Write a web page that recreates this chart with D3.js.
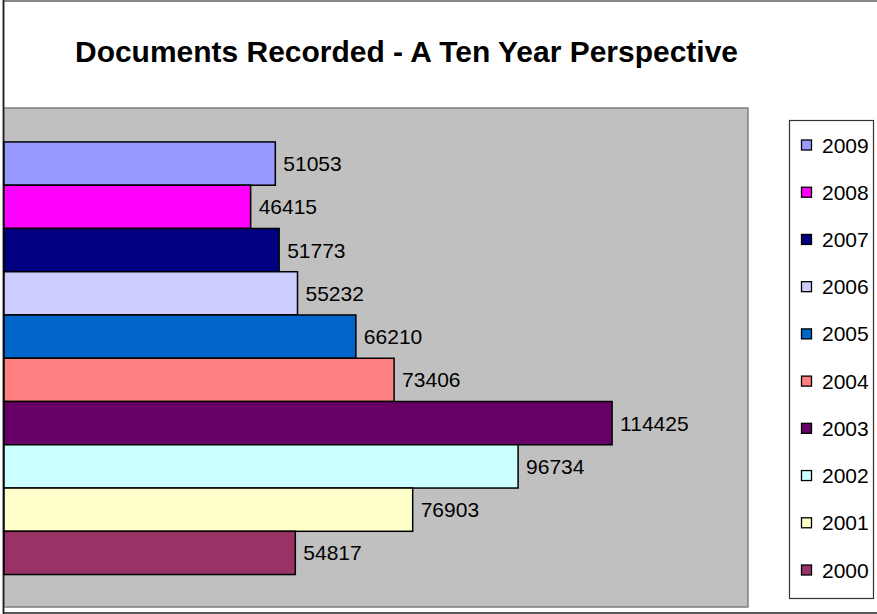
<!DOCTYPE html>
<html>
<head>
<meta charset="utf-8">
<script src="https://cdn.jsdelivr.net/npm/d3@7"></script>
<style>
  html, body { margin: 0; padding: 0; background: #fff; }
  svg { display: block; font-family: Arial, "Liberation Sans", sans-serif; }
</style>
</head>
<body>
<svg id="chart" width="877" height="614"></svg>
<script>
const titleText = "Documents Recorded - A Ten Year Perspective";
const years = ["2009", "2008", "2007", "2006", "2005", "2004", "2003", "2002", "2001", "2000"];
const values = [51053, 46415, 51773, 55232, 66210, 73406, 114425, 96734, 76903, 54817];
const colors = ["#9999FF", "#FF00FF", "#000080", "#CCCCFF", "#0066CC", "#FF8080", "#660066", "#CCFFFF", "#FFFFCC", "#993366"];
const xMax = 140000;

const svg = d3.select("#chart");

// outer chart border
svg.append("rect").attr("x", 3.5).attr("y", 1).attr("width", 880).attr("height", 612)
  .attr("fill", "#fff").attr("stroke", "#222").attr("stroke-width", 1.5);
svg.append("line").attr("x1", 3).attr("x2", 877).attr("y1", 1).attr("y2", 1)
  .attr("stroke", "#999").attr("stroke-width", 1.5);

// plot area
const px0 = 4, px1 = 748, py0 = 108, py1 = 607;
svg.append("rect").attr("x", px0).attr("y", py0).attr("width", px1 - px0).attr("height", py1 - py0)
  .attr("fill", "#C0C0C0").attr("stroke", "#808080").attr("stroke-width", 1.5);
svg.append("line").attr("x1", 3.5).attr("x2", 3.5).attr("y1", 0).attr("y2", 614)
  .attr("stroke", "#222").attr("stroke-width", 1.5);

const x = d3.scaleLinear().domain([0, xMax]).range([px0, px1]);
const y = d3.scaleBand().domain(years).range([109.5, py1]).paddingInner(0).paddingOuter(0.75);

const data = years.map((yr, i) => ({ year: yr, value: values[i], color: colors[i] }));

svg.append("g").selectAll("rect").data(data).join("rect")
  .attr("x", x(0))
  .attr("y", d => y(d.year))
  .attr("width", d => x(d.value) - x(0))
  .attr("height", y.bandwidth())
  .attr("fill", d => d.color)
  .attr("stroke", "#000").attr("stroke-width", 1.5);

svg.append("g").selectAll("text").data(data).join("text")
  .attr("x", d => x(d.value) + 8)
  .attr("y", d => y(d.year) + y.bandwidth() / 2)
  .attr("dy", "0.36em")
  .attr("font-size", "21px")
  .attr("fill", "#000")
  .text(d => d.value);

// title
svg.append("text").attr("x", 75).attr("y", 62)
  .attr("font-size", "29px").attr("font-weight", "bold")
  .attr("textLength", 663).attr("lengthAdjust", "spacingAndGlyphs")
  .text(titleText);

// legend
svg.append("rect").attr("x", 789.5).attr("y", 120.5).attr("width", 84).attr("height", 478)
  .attr("fill", "#fff").attr("stroke", "#333").attr("stroke-width", 1.2);
const ly = d3.scalePoint().domain(years).range([145, 570]);
const lg = svg.append("g").selectAll("g").data(data).join("g")
  .attr("transform", d => `translate(0,${ly(d.year)})`);
lg.append("rect").attr("x", 801.5).attr("y", -5).attr("width", 10).attr("height", 10)
  .attr("fill", d => d.color).attr("stroke", "#000").attr("stroke-width", 1.3);
lg.append("text").attr("x", 822).attr("y", 0).attr("dy", "0.36em")
  .attr("font-size", "21px").attr("fill", "#000").text(d => d.year);
</script>
</body>
</html>
